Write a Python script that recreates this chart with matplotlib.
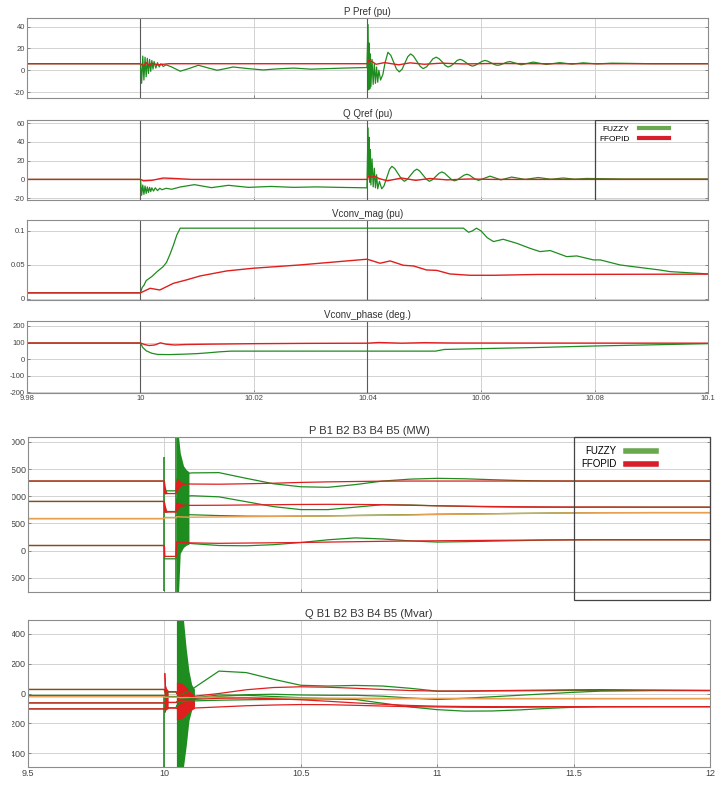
import matplotlib.pyplot as plt
from matplotlib.patches import Rectangle
from matplotlib.lines import Line2D

plt.rcParams['font.family'] = ['Liberation Sans Narrow', 'Liberation Sans', 'DejaVu Sans']

W, H = 725, 787
GREEN = '#1f8c1f'
RED = '#e01e1e'
ORANGE = '#e8a050'

# ---------------- top block (time 9.98 .. 10.1 s) ----------------
x_top_ticks = [9.98, 10.0, 10.02, 10.04, 10.06, 10.08, 10.1]
x_top_labels = ['9.98', '10', '10.02', '10.04', '10.06', '10.08', '10.1']

# P Pref (pu)
p_fz_t = [9.98, 10.0, 10.0002, 10.0004, 10.0006, 10.0008, 10.001, 10.0012, 10.0014, 10.0016,
          10.0018, 10.002, 10.0022, 10.0024, 10.0027, 10.003, 10.0033, 10.0036, 10.004, 10.0045,
          10.0055, 10.007, 10.0085, 10.0102, 10.012, 10.0135, 10.015, 10.0163, 10.019, 10.0216,
          10.024, 10.027, 10.03, 10.033, 10.036, 10.0399,
          10.0401, 10.0402, 10.0403, 10.0404, 10.0405, 10.0406, 10.0408, 10.041, 10.0412, 10.0414,
          10.0416, 10.0418, 10.042,
          10.0423, 10.0427, 10.0431, 10.0436, 10.0441, 10.0446, 10.0451, 10.0456, 10.0461, 10.0466,
          10.0471, 10.0476, 10.0481, 10.0487, 10.0493, 10.0498, 10.0504, 10.051, 10.0515, 10.0521,
          10.0526, 10.0532, 10.0537, 10.0542, 10.0547, 10.0553, 10.0558, 10.0563, 10.0568, 10.0574,
          10.058, 10.0585, 10.059, 10.0596, 10.0602, 10.0607, 10.0612, 10.0618, 10.0624, 10.0629,
          10.0634, 10.064, 10.0646, 10.0651, 10.0671, 10.0692, 10.0715, 10.0739, 10.076, 10.078,
          10.0805, 10.083, 10.09, 10.1]
p_fz = [6, 6, -12, 13, -9, 12, -6, 11, -3, 10,
        -1, 9, 1, 8, 2, 7, 3, 6, 3.5, 5,
        3, -0.9, 1.5, 4.6, 2, 0, 1.5, 3, 1.5, 0.3,
        1.2, 2, 1, 1.5, 2, 2.5,
        42, -18, 25, -17, 15, -15, 10, -13, 6, -12,
        3, -11, 0,
        -9, -4, 7, 16.5, 13.8, 7.5, 1.2, -1.5, 1, 6.7,
        12.5, 15, 13, 8.2, 3.5, 1.5, 3.1, 6.8, 10.4, 12,
        10.6, 7.5, 4.4, 3, 4, 6.5, 9, 10, 9.1, 6.9,
        4.7, 3.8, 4.6, 6.4, 8.2, 9, 8.3, 6.7, 5.2, 4.5,
        5, 6.2, 7.5, 8, 5, 7.5, 5.3, 7, 5.6, 6.8,
        5.8, 6.5, 6, 6]
p_ff_t = [9.98, 10.0, 10.0005, 10.001, 10.0015, 10.002, 10.003, 10.005, 10.04, 10.0402,
          10.0408, 10.0415, 10.043, 10.0455, 10.0475, 10.05, 10.053, 10.057, 10.062, 10.07, 10.1]
p_ff = [6, 6, 4, 7, 4.5, 6.5, 5, 6, 6, 9,
        8, 5.5, 7, 5, 6.8, 5.5, 6.5, 5.8, 6.2, 6, 6]

# Q Qref (pu)
q_fz_t = [9.98, 10.0, 10.0002, 10.0004, 10.0006, 10.0008, 10.001, 10.0012, 10.0014, 10.0016,
          10.0018, 10.002, 10.0023, 10.0026, 10.003, 10.0034, 10.0038, 10.0045, 10.0055, 10.007,
          10.0095, 10.0125, 10.0155, 10.019, 10.023, 10.027, 10.031, 10.035, 10.0399,
          10.0401, 10.0402, 10.0403, 10.0404, 10.0405, 10.0406, 10.0408, 10.041, 10.0412, 10.0414,
          10.0416, 10.0418, 10.0421,
          10.0425, 10.0429, 10.0434, 10.0439, 10.0443, 10.0448, 10.0454, 10.046, 10.0465, 10.047,
          10.0476, 10.0482, 10.0487, 10.0492, 10.0498, 10.0504, 10.0509, 10.0514, 10.052, 10.0526,
          10.0531, 10.0536, 10.0542, 10.0548, 10.0553, 10.0558, 10.0564, 10.057, 10.0575, 10.058,
          10.0585, 10.0591, 10.0596, 10.0616, 10.0635, 10.0654, 10.0678, 10.0701, 10.0723, 10.0745,
          10.0765, 10.0786, 10.085, 10.1]
q_fz = [0, 0, -17, -6, -16, -7, -15, -8, -14, -8.5,
        -13, -9, -12.5, -9, -12, -9.5, -11, -9.5, -10.5, -8.1,
        -5.6, -8.8, -6.3, -8.5, -7.5, -8.5, -8, -8.5, -9,
        55, 5, 45, -3, 32, -6, 22, -8, 12, -9,
        5, -10, -2,
        -10, -7, 2, 11, 14, 11.6, 6, 0.4, -2, 0,
        4.5, 9, 11, 9, 4.5, 0, -2, -0.5, 3, 6.5,
        8, 6.6, 3.2, -0.1, -1.5, -0.5, 2, 4.5, 5.5, 4.5,
        2.2, 0, -1, 3.5, -0.5, 2.5, 0, 2, 0.2, 1.5,
        0.3, 1, 0.5, 0.5]
q_ff_t = [9.98, 10.0, 10.0005, 10.002, 10.004, 10.006, 10.009, 10.04, 10.0402, 10.0406,
          10.0412, 10.042, 10.0435, 10.046, 10.0485, 10.051, 10.054, 10.058, 10.062, 10.1]
q_ff = [0, 0, -1.5, -1, 1.5, 1, 0, 0, 4, 2,
        3.5, 1, -1.5, 1.5, -1, 1, -0.5, 0.5, 0, 0]

# Vconv_mag (pu)
vm_fz_t = [9.98, 10.0, 10.0003, 10.0006, 10.001, 10.0015, 10.002, 10.0029, 10.004, 10.0046,
           10.0052, 10.0058, 10.0064, 10.007, 10.0569, 10.0578, 10.0585, 10.0592, 10.06, 10.0611,
           10.0622, 10.0639, 10.0663, 10.0686, 10.0704, 10.0722, 10.0751, 10.0769, 10.0798, 10.081,
           10.0845, 10.0868, 10.0915, 10.0933, 10.1]
vm_fz = [0.009, 0.009, 0.017, 0.02, 0.027, 0.03, 0.033, 0.04, 0.0475, 0.054,
         0.0657, 0.079, 0.094, 0.104, 0.104, 0.098, 0.1, 0.104, 0.1, 0.09,
         0.0843, 0.0877, 0.0818, 0.0745, 0.0696, 0.0711, 0.0622, 0.0632, 0.0574, 0.0574,
         0.05, 0.0475, 0.0426, 0.0402, 0.0368]
vm_ff_t = [9.98, 10.0, 10.0005, 10.0017, 10.0034, 10.0058, 10.0081, 10.0105, 10.0152, 10.0198,
           10.0281, 10.0399, 10.0405, 10.0422, 10.044, 10.0463, 10.0481, 10.0504, 10.0522, 10.0545,
           10.058, 10.0621, 10.07, 10.1]
vm_ff = [0.009, 0.009, 0.011, 0.0157, 0.0132, 0.023, 0.028, 0.0338, 0.0412, 0.0451,
         0.05, 0.0584, 0.057, 0.0525, 0.0559, 0.0495, 0.0485, 0.0426, 0.042, 0.0368,
         0.0348, 0.0348, 0.036, 0.0365]

# Vconv_phase (deg.)
vp_fz_t = [9.98, 10.0, 10.0004, 10.001, 10.002, 10.003, 10.005, 10.008, 10.01, 10.012,
           10.014, 10.016, 10.052, 10.0535, 10.06, 10.07, 10.08, 10.09, 10.1]
vp_fz = [97, 97, 70, 50, 35, 28, 27, 30, 33, 38,
         44, 48, 48, 58, 63, 70, 79, 86, 93]
vp_ff_t = [9.98, 10.0, 10.0007, 10.0015, 10.0025, 10.0035, 10.0045, 10.006, 10.008, 10.012,
           10.02, 10.03, 10.04, 10.042, 10.046, 10.05, 10.055, 10.1]
vp_ff = [97, 97, 88, 82, 85, 98, 90, 85, 88, 90,
         93, 95, 96, 100, 96, 99, 97, 96]

# ---------------- bottom block (time 9.5 .. 12 s) ----------------
x_bot_ticks = [9.5, 10.0, 10.5, 11.0, 11.5, 12.0]
x_bot_labels = ['9.5', '10', '10.5', '11', '11.5', '12']

tb = [9.5, 10.0, 10.001, 10.043, 10.045, 10.06, 10.1, 10.2, 10.3, 10.4,
      10.5, 10.6, 10.7, 10.8, 10.9, 11.0, 11.1, 11.2, 11.3, 11.4,
      11.5, 11.6, 11.8, 12.0]

# P B1..B5 (MW)
pb_fz_1 = [1280, 1280, 1100, 1100, 1300, 1400, 1430, 1435, 1330, 1230,
           1175, 1165, 1215, 1280, 1315, 1330, 1322, 1305, 1290, 1282,
           1280, 1280, 1280, 1280]
pb_fz_2 = [905, 905, 720, 720, 950, 990, 1010, 990, 900, 810,
           755, 755, 800, 845, 840, 825, 815, 805, 800, 798,
           798, 800, 800, 800]
pb_fz_3 = [590, 590, 610, 610, 650, 670, 660, 645, 635, 632,
           635, 640, 648, 655, 662, 670, 675, 680, 685, 690,
           695, 698, 700, 700]
pb_fz_4 = [95, 95, -150, -150, 150, 160, 130, 95, 90, 110,
           150, 200, 235, 215, 180, 158, 165, 175, 185, 195,
           200, 200, 200, 200]
pb_ff_1 = [1280, 1280, 1050, 1050, 1250, 1230, 1225, 1222, 1230, 1240,
           1255, 1265, 1272, 1278, 1280, 1280, 1280, 1280, 1280, 1280,
           1280, 1280, 1280, 1280]
pb_ff_2 = [905, 905, 710, 710, 860, 835, 833, 835, 840, 845,
           850, 852, 850, 845, 835, 825, 818, 812, 808, 805,
           803, 802, 800, 800]
pb_ff_3 = [590, 590, 606, 606, 625, 620, 615, 620, 625, 630,
           635, 640, 645, 650, 657, 665, 672, 678, 684, 689,
           695, 698, 700, 700]
pb_ff_4 = [95, 95, -105, -105, 160, 150, 143, 135, 140, 145,
           150, 158, 165, 172, 178, 182, 186, 190, 193, 196,
           198, 200, 200, 200]

# Q B1..B5 (Mvar)
qb_fz_1 = [27, 27, 10, 10, 0, -10, 27, 150, 140, 95,
           55, 50, 54, 50, 35, 16, 15, 17, 18, 19,
           20, 20, 20, 20]
qb_fz_2 = [-103, -103, -95, -95, -80, -60, -30, -10, -12, -20,
           -28, -35, -40, -65, -90, -108, -118, -117, -110, -100,
           -92, -89, -88, -88]
qb_fz_3 = [-13, -13, -20, -20, -20, -30, -35, -20, -8, -5,
           -10, -12, -12, -18, -30, -40, -32, -22, -12, -2,
           8, 16, 20, 20]
qb_fz_4 = [-63, -63, -60, -60, -60, -55, -50, -45, -42, -40,
           -38, -36, -35, -35, -34, -34, -34, -34, -34, -34,
           -34, -34, -34, -34]
qb_ff_1 = [27, 27, 12, 12, 0, -10, -20, 0, 25, 40,
           45, 42, 35, 27, 20, 16, 17, 19, 21, 23,
           25, 26, 23, 20]
qb_ff_2 = [-63, -63, -60, -60, -55, -45, -40, -32, -30, -35,
           -42, -52, -63, -72, -80, -85, -87, -88, -88, -88,
           -88, -88, -88, -88]
qb_ff_3 = [-103, -103, -98, -98, -100, -100, -98, -90, -82, -77,
           -74, -75, -79, -84, -88, -90, -92, -93, -92, -90,
           -89, -88, -88, -88]
qb_ff_4 = [-22, -22, -25, -25, -25, -28, -25, -25, -27, -29,
           -30, -31, -32, -32, -33, -33, -33, -34, -34, -34,
           -34, -34, -34, -34]

# switching transients (dense ringing drawn as envelopes)
pb_spike_t = [10.0, 10.044]
pb_spike_lo = [-750, -760]
pb_spike_hi = [1720, 2090]
pb_fz_burst_t = [10.044, 10.052, 10.058, 10.07, 10.08, 10.09]
pb_fz_burst_lo = [-760, -760, -50, 60, 100, 120]
pb_fz_burst_hi = [2090, 2090, 1800, 1560, 1490, 1450]
pb_ff_burst_t = [10.0, 10.002, 10.006, 10.01]
pb_ff_burst1_lo = [1040, 1045, 1050, 1050]
pb_ff_burst1_hi = [1280, 1200, 1120, 1060]
pb_ff_burst2_lo = [700, 705, 710, 710]
pb_ff_burst2_hi = [905, 850, 780, 720]
pb_ff_burst_t2 = [10.044, 10.05, 10.06, 10.075]
pb_ff_burst3_lo = [1050, 1120, 1190, 1225]
pb_ff_burst3_hi = [1360, 1320, 1270, 1235]
pb_ff_burst4_lo = [700, 760, 810, 830]
pb_ff_burst4_hi = [920, 890, 860, 840]

qb_spike_t = [10.0]
qb_spike_lo = [-490]
qb_spike_hi = [-13]
qb_fz_burst_t = [10.044, 10.07, 10.08, 10.09, 10.1, 10.11]
qb_fz_burst_lo = [-490, -490, -350, -180, -110, -80]
qb_fz_burst_hi = [490, 490, 300, 150, 60, 30]
qb_ff_burst_t1 = [10.0, 10.002, 10.006, 10.012]
qb_ff_burst1_lo = [-125, -115, -105, -100]
qb_ff_burst1_hi = [139, 60, 35, 20]
qb_ff_burst_t2 = [10.044, 10.055, 10.07, 10.085, 10.095, 10.11]
qb_ff_burst2_lo = [-175, -175, -160, -135, -115, -100]
qb_ff_burst2_hi = [75, 75, 60, 35, 10, -15]


def add_ax(l, t, r, b):
    return fig.add_axes([l / W, 1 - b / H, (r - l) / W, (b - t) / H])


def style(ax, title, xticks, yticks, ylabels, xlim, ylim, size):
    ax.set_xlim(xlim)
    ax.set_ylim(ylim)
    ax.set_xticks(xticks)
    ax.set_yticks(yticks)
    ax.set_yticklabels(ylabels)
    ax.grid(True, color='#d2d2d2', lw=0.7)
    ax.set_axisbelow(True)
    for s in ax.spines.values():
        s.set_color('#8c8c8c')
        s.set_linewidth(0.8)
    ax.tick_params(direction='in', length=2.5, width=0.6, colors='#777777',
                   labelcolor='#444444', labelsize=size, right=True, pad=1.5)
    ax.set_title(title, fontsize=size + 1.5, color='#333333', pad=2)


fig = plt.figure(figsize=(W / 100, H / 100), dpi=100)

# --- P Pref
ax1 = add_ax(27, 18, 708, 98)
ax1.plot(p_fz_t, p_fz, color=GREEN, lw=0.9)
ax1.plot(p_ff_t, p_ff, color=RED, lw=1.0)
style(ax1, 'P Pref (pu)', x_top_ticks, [-20, 0, 20, 40], ['-20', '0', '20', '40'],
      (9.98, 10.1), (-25.5, 48), 5.5)

# --- Q Qref
ax2 = add_ax(27, 120, 708, 200)
ax2.plot(q_fz_t, q_fz, color=GREEN, lw=0.9)
ax2.plot(q_ff_t, q_ff, color=RED, lw=1.0)
style(ax2, 'Q Qref (pu)', x_top_ticks, [-20, 0, 20, 40, 60], ['-20', '0', '20', '40', '60'],
      (9.98, 10.1), (-22, 63.5), 5.5)

# --- Vconv_mag
ax3 = add_ax(27, 220, 708, 300)
ax3.plot(vm_fz_t, vm_fz, color=GREEN, lw=0.9)
ax3.plot(vm_ff_t, vm_ff, color=RED, lw=1.0)
style(ax3, 'Vconv_mag (pu)', x_top_ticks, [0, 0.05, 0.1], ['0', '0.05', '0.1'],
      (9.98, 10.1), (-0.0015, 0.116), 5.5)

# --- Vconv_phase
ax4 = add_ax(27, 321, 708, 393)
ax4.plot(vp_fz_t, vp_fz, color=GREEN, lw=0.9)
ax4.plot(vp_ff_t, vp_ff, color=RED, lw=1.0)
style(ax4, 'Vconv_phase (deg.)', x_top_ticks, [-200, -100, 0, 100, 200],
      ['-200', '-100', '0', '100', '200'], (9.98, 10.1), (-205, 230), 5.5)
ax4.set_xticklabels(x_top_labels)

for ax in (ax1, ax2, ax3):
    ax.set_xticklabels([])
for ax in (ax1, ax2, ax3, ax4):
    for xv in (10.0, 10.04):
        ax.axvline(xv, color='#5a5a5a', lw=0.8, zorder=1)

# legend box in Q Qref
ax2.add_patch(Rectangle((10.08, 0), 0.02, 1, transform=ax2.get_xaxis_transform(),
                        fill=False, edgecolor='#444444', lw=0.9, zorder=3))
leg_handles = [Line2D([], [], color='#6aa84f', lw=3), Line2D([], [], color='#d81e2a', lw=3)]
ax2.legend(leg_handles, ['FUZZY', 'FFOPID'], loc='upper left', bbox_to_anchor=(0.83, 1.02),
           frameon=False, markerfirst=False, fontsize=6, handlelength=3.6,
           handletextpad=1.2, labelspacing=0.25, borderpad=0.3)

# --- P B1..B5
ax5 = add_ax(28, 437, 710, 592)
ax5.vlines(pb_spike_t, pb_spike_lo, pb_spike_hi, color=GREEN, lw=1.2)
ax5.fill_between(pb_fz_burst_t, pb_fz_burst_lo, pb_fz_burst_hi, color=GREEN, lw=0)
for ys in (pb_fz_1, pb_fz_2, pb_fz_3, pb_fz_4):
    ax5.plot(tb, ys, color=GREEN, lw=0.9)
ax5.plot(tb, pb_ff_3, color=ORANGE, lw=1.0)
for ys in (pb_ff_1, pb_ff_2, pb_ff_4):
    ax5.plot(tb, ys, color=RED, lw=0.9)
ax5.fill_between(pb_ff_burst_t, pb_ff_burst1_lo, pb_ff_burst1_hi, color=RED, lw=0)
ax5.fill_between(pb_ff_burst_t, pb_ff_burst2_lo, pb_ff_burst2_hi, color=RED, lw=0)
ax5.fill_between(pb_ff_burst_t2, pb_ff_burst3_lo, pb_ff_burst3_hi, color=RED, lw=0)
ax5.fill_between(pb_ff_burst_t2, pb_ff_burst4_lo, pb_ff_burst4_hi, color=RED, lw=0)
style(ax5, 'P B1 B2 B3 B4 B5 (MW)', x_bot_ticks, [-500, 0, 500, 1000, 1500, 2000],
      ['-500', '0', '500', '1000', '1500', '2000'], (9.5, 12), (-760, 2090), 6.5)
ax5.set_xticklabels([])
ax5.add_patch(Rectangle((11.5, -0.05), 0.5, 1.05, transform=ax5.get_xaxis_transform(),
                        fill=False, edgecolor='#444444', lw=0.9, zorder=3, clip_on=False))
leg_handles = [Line2D([], [], color='#6aa84f', lw=4), Line2D([], [], color='#d81e2a', lw=4)]
ax5.legend(leg_handles, ['FUZZY', 'FFOPID'], loc='upper left', bbox_to_anchor=(0.8, 0.99),
           frameon=False, markerfirst=False, fontsize=7, handlelength=3.0,
           handletextpad=1.0, labelspacing=0.3, borderpad=0.3)

# --- Q B1..B5
ax6 = add_ax(28, 620, 710, 767)
ax6.vlines(qb_spike_t, qb_spike_lo, qb_spike_hi, color=GREEN, lw=1.2)
ax6.fill_between(qb_fz_burst_t, qb_fz_burst_lo, qb_fz_burst_hi, color=GREEN, lw=0)
for ys in (qb_fz_1, qb_fz_2, qb_fz_3, qb_fz_4):
    ax6.plot(tb, ys, color=GREEN, lw=0.9)
ax6.plot(tb, qb_ff_4, color=ORANGE, lw=1.0)
for ys in (qb_ff_1, qb_ff_2, qb_ff_3):
    ax6.plot(tb, ys, color=RED, lw=0.9)
ax6.fill_between(qb_ff_burst_t1, qb_ff_burst1_lo, qb_ff_burst1_hi, color=RED, lw=0.6)
ax6.fill_between(qb_ff_burst_t2, qb_ff_burst2_lo, qb_ff_burst2_hi, color=RED, lw=0)
style(ax6, 'Q B1 B2 B3 B4 B5 (Mvar)', x_bot_ticks, [-400, -200, 0, 200, 400],
      ['-400', '-200', '0', '200', '400'], (9.5, 12), (-492, 492), 6.5)
ax6.set_xticklabels(x_bot_labels)

# the lower screenshot is cropped at its left edge
fig.add_artist(Rectangle((0, 0), 12 / W, 1 - 425 / H, transform=fig.transFigure,
                         facecolor='white', edgecolor='none', zorder=10))

fig.savefig('out.png', dpi=100)
